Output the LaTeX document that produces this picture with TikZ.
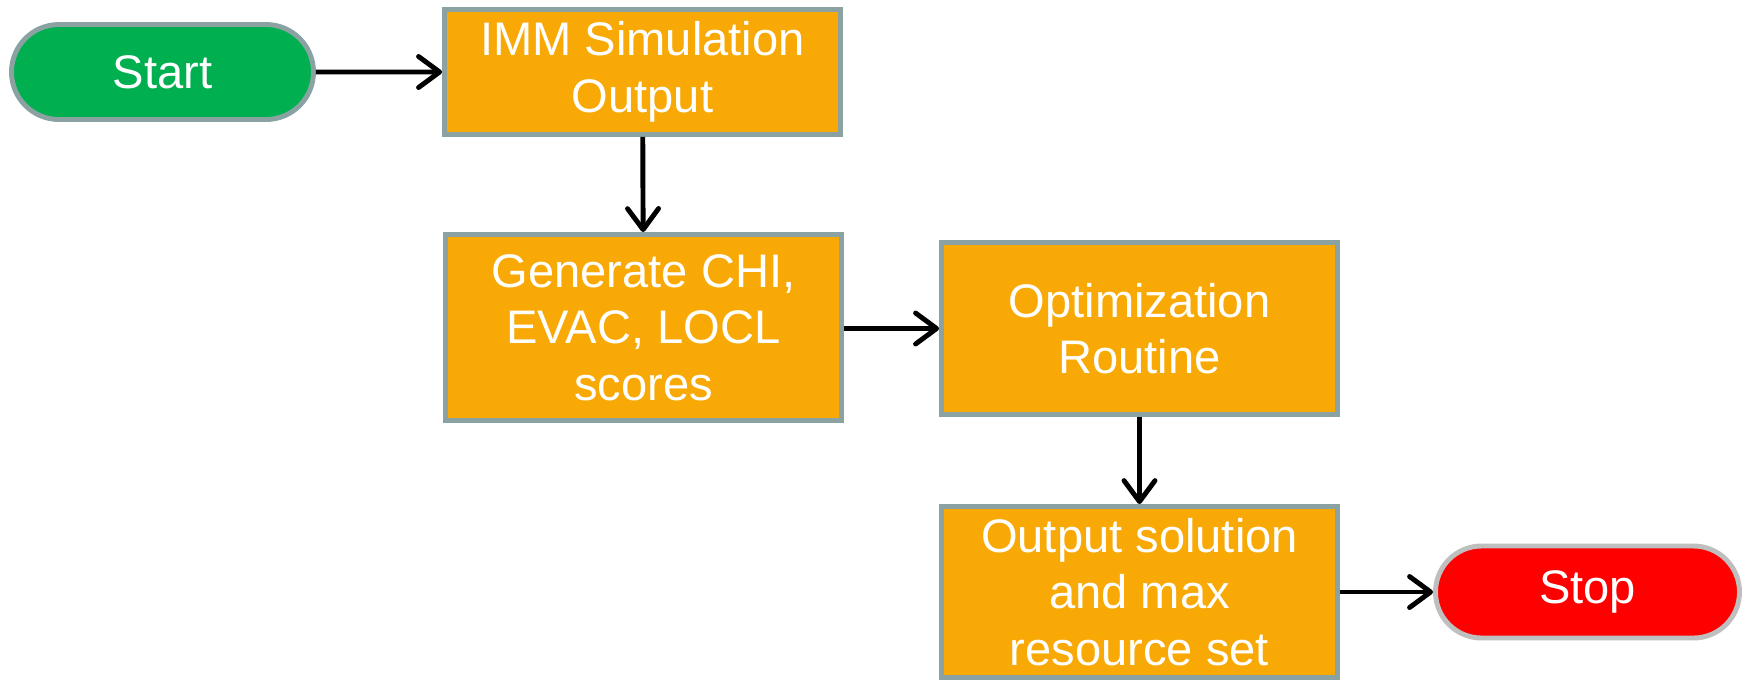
\documentclass[tikz,border=0pt]{standalone}
\usepackage{fontspec}
\setmainfont{Liberation Sans}
\usetikzlibrary{shapes.misc,arrows.meta}
\definecolor{boxorange}{HTML}{F9A905}
\definecolor{startgreen}{HTML}{00B050}
\definecolor{stopred}{HTML}{FF0000}
\definecolor{edgegray}{HTML}{8BA2A2}
\definecolor{stopedge}{HTML}{BFBFBF}
\tikzset{
  procbox/.style={draw=edgegray, line width=1.4pt, fill=boxorange, text=white,
    align=center, inner sep=0pt, font=\fontsize{13.4}{16.1}\selectfont},
  term/.style={rounded rectangle, line width=1.4pt, text=white, inner sep=0pt,
    font=\fontsize{13.4}{16.1}\selectfont},
  flow/.style={line width=1.4pt, -{Straight Barb[round,length=2.1mm,width=3.1mm,line width=1.4pt]}}
}
\begin{document}
\begin{tikzpicture}
\useasboundingbox (0,0) rectangle (17.46,-6.80);
\node[term, draw=edgegray, fill=startgreen, minimum width=3.02cm, minimum height=0.95cm] (start) at (1.625,-0.72) {Start};
\node[procbox, minimum width=3.96cm, minimum height=1.25cm] (imm) at (6.425,-0.72) {IMM Simulation\\Output};
\node[procbox, minimum width=3.96cm, minimum height=1.86cm] (gen) at (6.435,-3.275) {Generate CHI,\\EVAC, LOCL\\scores};
\node[procbox, minimum width=3.96cm, minimum height=1.72cm] (opt) at (11.395,-3.285) {Optimization\\Routine};
\node[procbox, minimum width=3.96cm, minimum height=1.71cm] (out) at (11.395,-5.92) {Output solution\\and max\\resource set};
\node[term, draw=stopedge, fill=stopred, minimum width=3.04cm, minimum height=0.92cm] (stop) at (15.875,-5.92) {Stop};
\draw[flow] (start) -- (imm);
\draw[flow] (imm) -- (gen);
\draw[flow] (gen.east |- opt) -- (opt);
\draw[flow] (opt) -- (out);
\draw[flow] (out.east |- stop) -- (stop);
\end{tikzpicture}
\end{document}
